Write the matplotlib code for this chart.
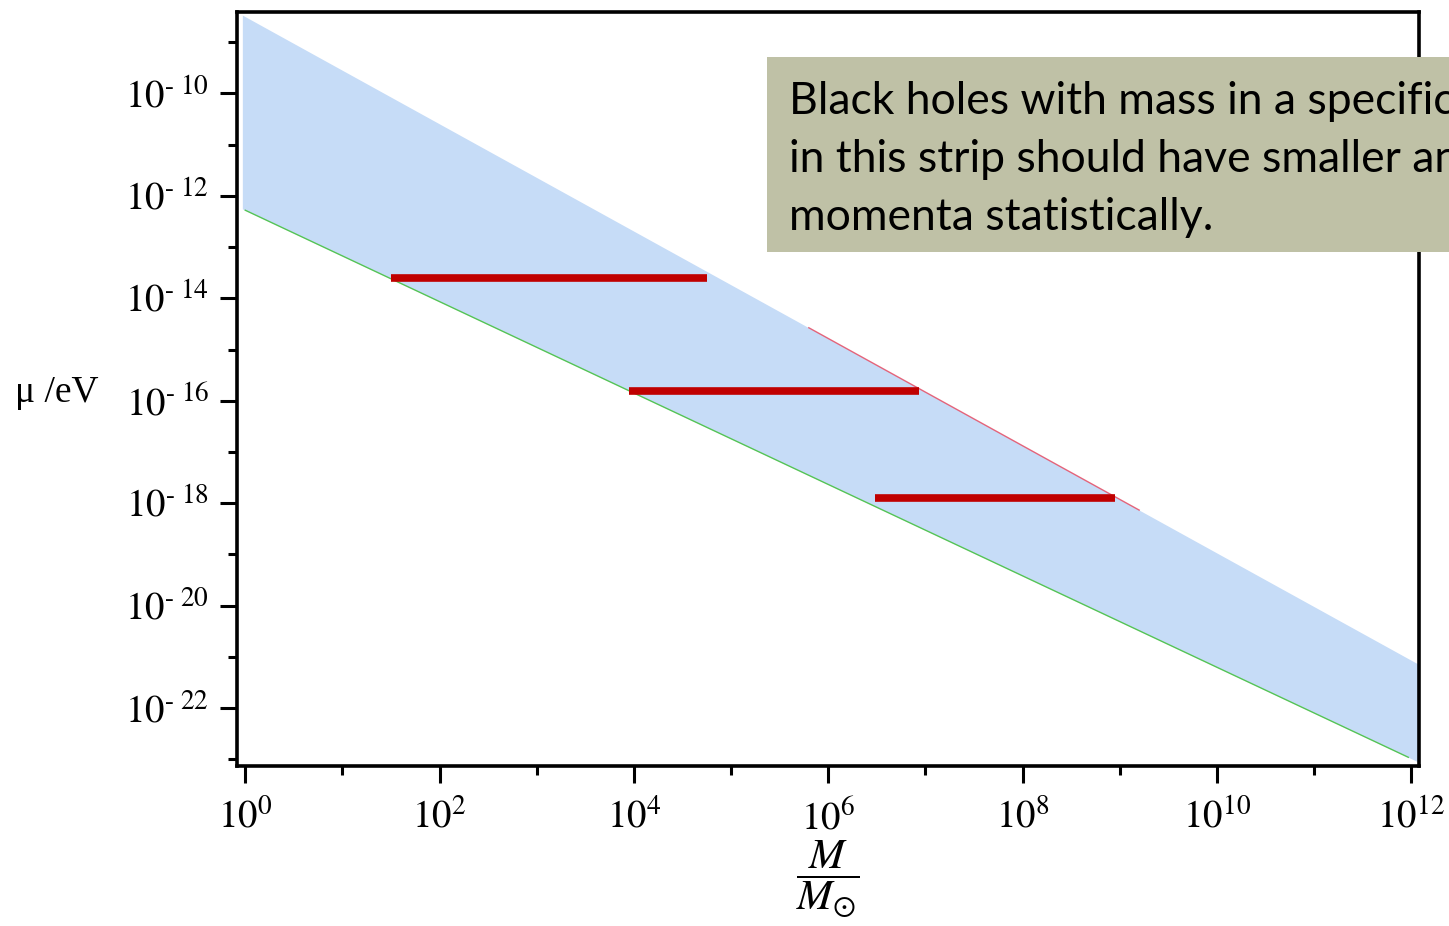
import numpy as np
import matplotlib
matplotlib.use("Agg")
import matplotlib.pyplot as plt
from matplotlib.patches import Rectangle
from matplotlib.ticker import FixedLocator, FuncFormatter, NullFormatter

# ----------------------------
# Data (log10 values)
# ----------------------------
upper_logM = [-0.03, 12.09]
upper_logmu = [-8.47, -21.16]
lower_logM = [0.0, 11.97]
lower_logmu = [-12.28, -22.96]
red_edge_logM = [5.8, 9.2]          # part of the upper edge drawn in red

bar_left = [1.5, 3.95, 6.48]
bar_right = [4.75, 6.93, 8.95]
bar_logmu = [-13.60, -15.81, -17.90]

x_major = [0, 2, 4, 6, 8, 10, 12]
x_minor = [1, 3, 5, 7, 9, 11]
y_major = [-10, -12, -14, -16, -18, -20, -22]
y_minor = [-9, -11, -13, -15, -17, -19, -21, -23]

note_lines = ["Black holes with mass in a specific",
              "in this strip should have smaller angular",
              "momenta statistically."]

# ----------------------------
# Figure
# ----------------------------
plt.rcParams["mathtext.fontset"] = "stix"
plt.rcParams["font.family"] = ["Liberation Serif", "DejaVu Serif"]

W, H = 1449, 926
fig = plt.figure(figsize=(W / 100, H / 100), dpi=100)
ax = fig.add_axes([237 / W, 1 - 766 / H, (1419 - 237) / W, (766 - 12) / H])

def line_at(lm, xs, ys):
    return np.interp(lm, xs, ys)

# strip between the two boundary lines
grid = np.array(upper_logM)
up = 10 ** line_at(grid, upper_logM, upper_logmu)
slope = (lower_logmu[1] - lower_logmu[0]) / (lower_logM[1] - lower_logM[0])
low = 10 ** (lower_logmu[0] + slope * (grid - lower_logM[0]))
ax.fill_between(10 ** grid, low, up, color="#c6dcf7", lw=0, zorder=1)

ax.plot(10 ** np.array(lower_logM), 10 ** np.array(lower_logmu),
        color="#55c455", lw=1.0, zorder=2)
red_y = 10 ** line_at(np.array(red_edge_logM), upper_logM, upper_logmu)
ax.plot(10 ** np.array(red_edge_logM), red_y, color="#e2405a", lw=1.0,
        alpha=0.8, zorder=2)

ax.hlines(10 ** np.array(bar_logmu), 10 ** np.array(bar_left),
          10 ** np.array(bar_right), color="#c00000", lw=5.5, zorder=3)

ax.set_xscale("log")
ax.set_yscale("log")
ax.set_xlim(10 ** -0.085, 10 ** 12.08)
ax.set_ylim(10 ** -23.13, 10 ** -8.41)

ax.xaxis.set_major_locator(FixedLocator([10.0 ** k for k in x_major]))
ax.xaxis.set_minor_locator(FixedLocator([10.0 ** k for k in x_minor]))
ax.yaxis.set_major_locator(FixedLocator([10.0 ** k for k in y_major]))
ax.yaxis.set_minor_locator(FixedLocator([10.0 ** k for k in y_minor]))
ax.xaxis.set_minor_formatter(NullFormatter())
ax.yaxis.set_minor_formatter(NullFormatter())
ax.xaxis.set_major_formatter(
    FuncFormatter(lambda v, p: r"$10^{%d}$" % round(np.log10(v))))
ax.yaxis.set_major_formatter(
    FuncFormatter(lambda v, p: r"$10^{\text{- }%d}$" % abs(round(np.log10(v)))))

for s in ax.spines.values():
    s.set_linewidth(2.6)
ax.tick_params(which="major", direction="out", length=12, width=2.2,
               labelsize=28, pad=8)
ax.tick_params(axis="x", which="major", pad=12)
ax.tick_params(which="minor", direction="out", length=6.5, width=2.2)

ax.set_xlabel(r"$\dfrac{M}{M_{\odot}}$", fontsize=31, labelpad=1)
fig.text(15 / W, 1 - 393 / H, "μ /eV", fontsize=27,
         va="center", ha="left")

# annotation box (runs past the right edge of the picture)
fig.patches.append(Rectangle((767 / W, 1 - 252 / H), 0.6, 195 / H,
                             transform=fig.transFigure, facecolor="#bfc1a6",
                             edgecolor="none", zorder=5))
fig.text(789 / W, 1 - 81 / H, "\n".join(note_lines), family="Lato",
         fontsize=32, va="top", ha="left", linespacing=1.52, zorder=6)

fig.savefig("out.png", dpi=100)
